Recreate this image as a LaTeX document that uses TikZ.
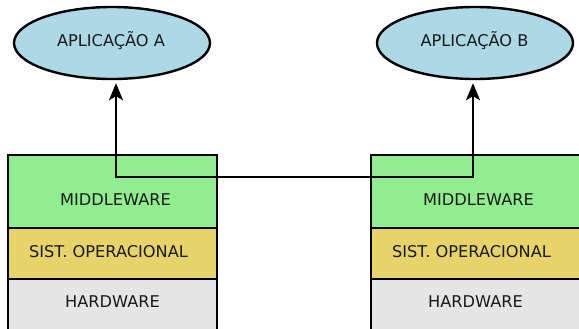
\documentclass[tikz,border=0pt]{standalone}
\usepackage{fontspec}
\setmainfont{DejaVu Sans}
\usetikzlibrary{arrows.meta,shapes.geometric,calc}
\definecolor{appblue}{HTML}{ADD8E6}
\definecolor{mwgreen}{HTML}{90EE90}
\definecolor{osyellow}{HTML}{E6D46A}
\definecolor{hwgray}{HTML}{E5E5E5}
\definecolor{txt}{HTML}{1A1A1A}
% #1 = shift right, #2 = shift down, #3 = text
\newcommand\placetxt[3]{\raisebox{\dimexpr-5.83pt-#2\relax}[0pt][0pt]{\makebox[0pt]{\hspace*{#1}\hspace*{#1}#3}}}
\tikzset{
  app/.style={ellipse, draw=black, line width=2.4pt, fill=appblue, minimum width=196pt, minimum height=72pt, inner sep=0pt, text=txt, font=\fontsize{16.2}{18}\selectfont},
  layer/.style={rectangle, draw=black, line width=2.6pt, minimum width=209pt, inner sep=0pt, text=txt, font=\fontsize{16.2}{18}\selectfont},
  link/.style={draw=black, line width=2.6pt, {Stealth[length=17pt,width=14pt,inset=4pt]}-{Stealth[length=17pt,width=14pt,inset=4pt]}, shorten <=3pt, shorten >=3pt},
}
\begin{document}
\begin{tikzpicture}[x=1pt,y=-1pt]
\useasboundingbox (0,0) rectangle (579,329);
\clip (0,0) rectangle (579,329);
\node[app] (a) at (112,43) {\placetxt{-1pt}{-2pt}{APLICAÇÃO A}};
\node[app] (b) at (475,43) {\placetxt{-0.5pt}{-2pt}{APLICAÇÃO B}};
\node[layer, fill=mwgreen, minimum height=73pt] (mwA) at (112.5,191.5) {\placetxt{3pt}{8pt}{MIDDLEWARE}};
\node[layer, fill=osyellow, minimum height=51pt] (osA) at (112.5,253.5) {\placetxt{-4pt}{-2pt}{SIST. OPERACIONAL}};
\node[layer, fill=hwgray, minimum height=56pt] (hwA) at (112.5,307) {\placetxt{0pt}{-5pt}{HARDWARE}};
\node[layer, fill=mwgreen, minimum height=73pt] (mwB) at (475.5,191.5) {\placetxt{3pt}{8pt}{MIDDLEWARE}};
\node[layer, fill=osyellow, minimum height=51pt] (osB) at (475.5,253.5) {\placetxt{-4pt}{-2pt}{SIST. OPERACIONAL}};
\node[layer, fill=hwgray, minimum height=56pt] (hwB) at (475.5,307) {\placetxt{0pt}{-5pt}{HARDWARE}};
\coordinate (m) at (116,177);
\coordinate (n) at (473,177);
\draw[link] (a.south -| m) -- (m) -- (n) -- (b.south -| n);
\end{tikzpicture}
\end{document}
